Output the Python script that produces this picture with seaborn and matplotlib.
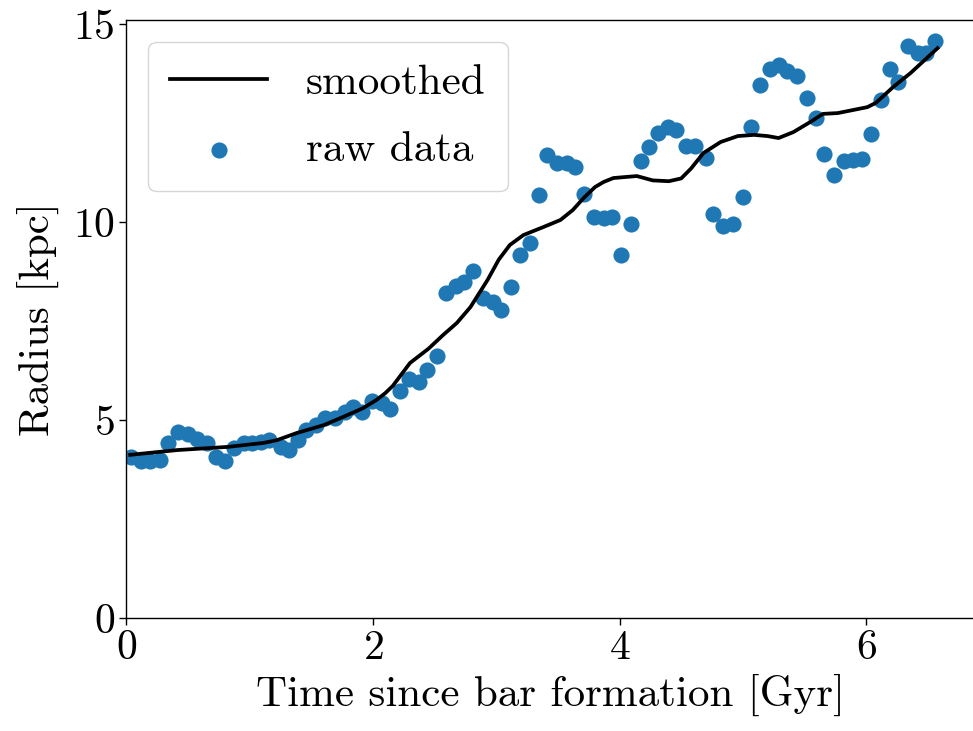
import matplotlib
matplotlib.use("Agg")
import matplotlib.pyplot as plt
import seaborn as sns
import pandas as pd

time_raw = [0.04, 0.12, 0.19, 0.27, 0.34, 0.42, 0.50, 0.57, 0.65, 0.73,
            0.80, 0.87, 0.95, 1.02, 1.09, 1.16, 1.25, 1.32, 1.39, 1.46,
            1.54, 1.61, 1.69, 1.77, 1.84, 1.91, 1.99, 2.07, 2.14, 2.22,
            2.29, 2.37, 2.44, 2.52, 2.59, 2.67, 2.74, 2.81, 2.89, 2.97,
            3.04, 3.12, 3.19, 3.27, 3.35, 3.41, 3.49, 3.57, 3.64, 3.71,
            3.79, 3.87, 3.94, 4.01, 4.09, 4.17, 4.24, 4.31, 4.39, 4.46,
            4.54, 4.61, 4.70, 4.76, 4.84, 4.92, 5.00, 5.07, 5.14, 5.22,
            5.29, 5.36, 5.44, 5.52, 5.59, 5.66, 5.74, 5.82, 5.89, 5.97,
            6.04, 6.12, 6.19, 6.26, 6.34, 6.42, 6.49, 6.56]
radius_raw = [4.07, 3.96, 3.96, 3.99, 4.42, 4.70, 4.65, 4.52, 4.42, 4.07,
              3.96, 4.29, 4.42, 4.42, 4.44, 4.49, 4.32, 4.24, 4.49, 4.75,
              4.87, 5.05, 5.05, 5.20, 5.33, 5.20, 5.48, 5.43, 5.28, 5.73,
              6.04, 5.96, 6.26, 6.62, 8.21, 8.38, 8.48, 8.76, 8.08, 7.98,
              7.78, 8.36, 9.17, 9.47, 10.68, 11.69, 11.49, 11.49, 11.39, 10.71,
              10.13, 10.10, 10.13, 9.17, 9.95, 11.54, 11.89, 12.25, 12.40, 12.32,
              11.92, 11.92, 11.62, 10.20, 9.90, 9.95, 10.63, 12.40, 13.46, 13.86,
              13.96, 13.81, 13.69, 13.13, 12.63, 11.72, 11.19, 11.54, 11.57, 11.59,
              12.22, 13.08, 13.86, 13.54, 14.44, 14.27, 14.27, 14.57]

time_smooth = [0.03, 0.41, 0.82, 1.11, 1.22, 1.38, 1.60, 1.76, 1.92, 2.03,
               2.10, 2.16, 2.30, 2.45, 2.57, 2.68, 2.79, 2.93, 3.02, 3.11,
               3.22, 3.38, 3.52, 3.62, 3.71, 3.80, 3.87, 3.95, 4.14, 4.27,
               4.40, 4.50, 4.58, 4.68, 4.82, 4.96, 5.09, 5.20, 5.29, 5.41,
               5.55, 5.65, 5.77, 6.01, 6.08, 6.22, 6.36, 6.58]
radius_smooth = [4.12, 4.24, 4.32, 4.42, 4.49, 4.67, 4.87, 5.08, 5.30, 5.51,
                 5.68, 5.86, 6.44, 6.80, 7.15, 7.45, 7.85, 8.54, 9.05, 9.42,
                 9.67, 9.87, 10.05, 10.30, 10.61, 10.88, 11.01, 11.11, 11.16, 11.05,
                 11.03, 11.10, 11.35, 11.74, 12.02, 12.17, 12.20, 12.17, 12.12, 12.27,
                 12.53, 12.73, 12.75, 12.90, 13.01, 13.41, 13.76, 14.39]

x_label = "Time since bar formation [Gyr]"
y_label = "Radius [kpc]"

plt.rcParams["font.family"] = ["cmr10", "DejaVu Serif"]
plt.rcParams["mathtext.fontset"] = "cm"
plt.rcParams["axes.formatter.use_mathtext"] = True

df_raw = pd.DataFrame({"t": time_raw, "r": radius_raw})
df_s = pd.DataFrame({"t": time_smooth, "r": radius_smooth})

fig = plt.figure(figsize=(9.73, 7.31), dpi=100)
ax = fig.add_axes([0.130, 0.1546, 0.8725, 0.818])

sns.lineplot(data=df_s, x="t", y="r", ax=ax, color="black", linewidth=2.7,
             label="smoothed", sort=False)
sns.scatterplot(data=df_raw, x="t", y="r", ax=ax, color="#1f77b4", s=135,
                linewidth=0, label="raw data", zorder=1)

ax.set_xlim(0, 6.887)
ax.set_ylim(0, 15.1)
ax.set_xticks([0, 2, 4, 6])
ax.set_yticks([0, 5, 10, 15])
ax.tick_params(labelsize=30, length=5, width=1)
ax.set_xlabel(x_label, fontsize=31, labelpad=5)
ax.set_ylabel(y_label, fontsize=31, labelpad=10)
for s in ax.spines.values():
    s.set_linewidth(1.0)

ax.legend(loc="upper left", fontsize=31, handlelength=2.25, labelspacing=0.67,
          handletextpad=0.9, borderpad=0.52, frameon=True, borderaxespad=0.5)

fig.savefig("out.png", dpi=100)
